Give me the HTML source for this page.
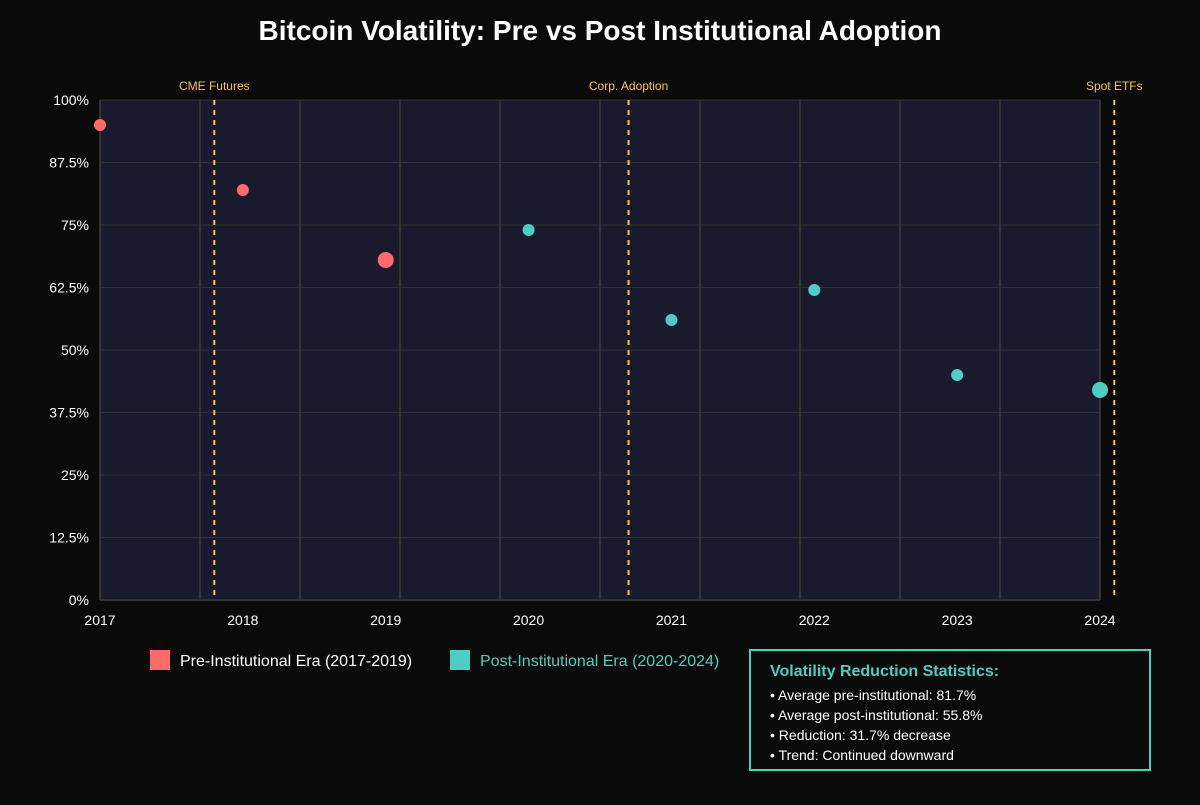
<!DOCTYPE html>
<html><head><meta charset="utf-8"><style>
body{margin:0;background:#0a0a0a;width:1200px;height:800px;overflow:hidden;font-family:"Liberation Sans",sans-serif;}
svg text{font-family:"Liberation Sans",sans-serif;}
</style></head><body>
<svg id="chart" width="1200" height="800">
<text x="600" y="40" text-anchor="middle" font-size="28" font-weight="bold" fill="#fff">Bitcoin Volatility: Pre vs Post Institutional Adoption</text>
<rect x="100" y="100" width="1000" height="500" fill="#1a1a2e"/>
<g id="grid"></g><g id="axes"></g><g id="events"></g><g id="points"></g>
<g>
<rect x="150" y="650" width="20" height="20" fill="#ff6b6b"/>
<text x="180" y="666" font-size="16" fill="#fff">Pre-Institutional Era (2017-2019)</text>
<rect x="450" y="650" width="20" height="20" fill="#4ecdc4"/>
<text x="480" y="666" font-size="16" fill="#4ecdc4">Post-Institutional Era (2020-2024)</text>
</g>
<g>
<rect x="750" y="650" width="400" height="120" fill="#0a0a0a" stroke="#4ecdc4" stroke-width="2"/>
<text x="770" y="676" font-size="16" font-weight="bold" fill="#4ecdc4">Volatility Reduction Statistics:</text>
<text x="770" y="700" font-size="14" fill="#fff">• Average pre-institutional: 81.7%</text>
<text x="770" y="720" font-size="14" fill="#fff">• Average post-institutional: 55.8%</text>
<text x="770" y="740" font-size="14" fill="#fff">• Reduction: 31.7% decrease</text>
<text x="770" y="760" font-size="14" fill="#fff">• Trend: Continued downward</text>
</g>
</svg>
<script>
const years=[2017,2018,2019,2020,2021,2022,2023,2024];
const volatility=[95,82,68,74,56,62,45,42];
const pointSizes=[6,6,8,6,6,6,6,8];
const yTicks=[0,12.5,25,37.5,50,62.5,75,87.5,100];
const eventYears=[2017.8,2020.7,2024.1];
const eventLabels=["CME Futures","Corp. Adoption","Spot ETFs"];
const NS="http://www.w3.org/2000/svg";
const X0=100,X1=1100,Y0=600,Y1=100;
const xs=v=>X0+(v-2017)/(2024-2017)*(X1-X0);
const ys=v=>Y0-v/100*(Y0-Y1);
function mk(tag,attrs,parent){const e=document.createElementNS(NS,tag);for(const k in attrs)e.setAttribute(k,attrs[k]);document.getElementById(parent).appendChild(e);return e;}
for(let i=0;i<=10;i++){const x=X0+i*100;const l=mk('line',{x1:x,x2:x,y1:Y1,y2:Y0,stroke:'#333','stroke-width':2},'grid');

}
yTicks.forEach(t=>{const y=ys(t);const l=mk('line',{x1:X0,x2:X1,y1:y,y2:y,stroke:'#333','stroke-width':1},'grid');


const tx=mk('text',{x:89,y:y+5,'text-anchor':'end','font-size':14,fill:'#fff'},'axes');tx.textContent=t+'%';

});
years.forEach(yr=>{const tx=mk('text',{x:xs(yr),y:625,'text-anchor':'middle','font-size':14,fill:'#fff'},'axes');tx.textContent=yr;

});
mk('line',{x1:X0,x2:X0,y1:Y1,y2:Y0,stroke:'#333','stroke-width':2},'axes');
mk('line',{x1:X0,x2:X1,y1:Y0,y2:Y0,stroke:'#333','stroke-width':2},'axes');
eventYears.forEach((ey,i)=>{const x=xs(ey);const l=mk('line',{x1:x,x2:x,y1:Y1,y2:Y0,stroke:'#ffc53d','stroke-width':2,'stroke-dasharray':'5,5'},'events');


const t=mk('text',{x:x,y:90,'text-anchor':'middle','font-size':12,fill:'#ffc53d'},'events');t.textContent=eventLabels[i];

});
years.forEach((yr,i)=>{const c=mk('circle',{cx:xs(yr),cy:ys(volatility[i]),r:pointSizes[i],fill:yr<=2019?'#ff6b6b':'#4ecdc4'},'points');

});
</script>
</body></html>
